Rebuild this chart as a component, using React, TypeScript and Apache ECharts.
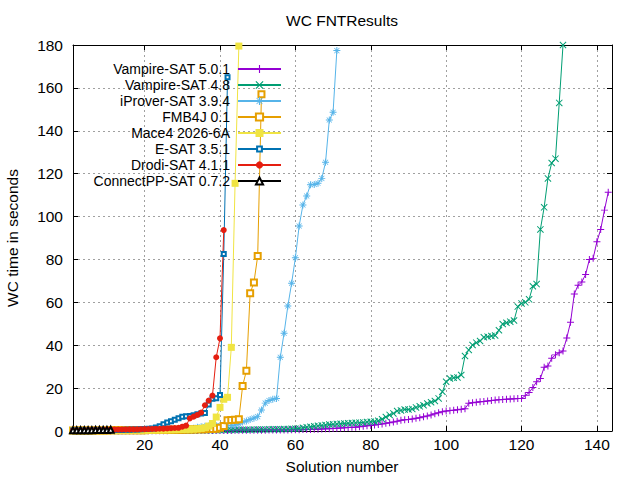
import { useEffect, useRef } from "react";
import * as echarts from "echarts";

// sorted WC times (s) per solver, index = solution number
const vampire501 = [
  0.05, 0.05, 0.06, 0.06, 0.07, 0.07, 0.08, 0.08, 0.09, 0.09,
  0.1, 0.1, 0.11, 0.11, 0.12, 0.12, 0.13, 0.13, 0.14, 0.14,
  0.15, 0.15, 0.16, 0.16, 0.17, 0.17, 0.18, 0.18, 0.19, 0.2,
  0.2, 0.21, 0.21, 0.22, 0.22, 0.23, 0.24, 0.24, 0.25, 0.26,
  0.27, 0.28, 0.29, 0.3, 0.31, 0.32, 0.33, 0.34, 0.35, 0.37,
  0.38, 0.4, 0.42, 0.44, 0.46, 0.48, 0.5, 0.52, 0.55, 0.58,
  0.6, 0.65, 0.7, 0.75, 0.8, 0.85, 0.9, 1.0, 1.1, 1.2,
  1.3, 1.4, 1.5, 1.6, 1.7, 1.8, 2.0, 2.2, 2.4, 2.6,
  2.8, 3.0, 3.3, 3.6, 3.9, 4.2, 4.6, 5.0, 5.2, 5.4,
  5.6, 5.9, 6.2, 6.6, 7.0, 7.5, 8.0, 8.5, 9.0, 9.3,
  9.5, 9.7, 9.9, 10.1, 10.4, 12.9, 13.2, 13.4, 13.6, 13.8,
  14.0, 14.2, 14.4, 14.6, 14.7, 14.8, 14.9, 15.0, 15.1, 15.2,
  16.5, 17.9, 20.3, 23.0, 24.5, 29.7, 30.3, 33.9, 35.5, 36.5,
  37.3, 43.4, 50.7, 63.9, 68.0, 69.5, 73.0, 80.0, 80.5, 88.3,
  94.0, 103.0, 111.3,
];
const vampire48 = [
  0.05, 0.05, 0.06, 0.06, 0.07, 0.07, 0.08, 0.08, 0.09, 0.09,
  0.1, 0.1, 0.11, 0.11, 0.12, 0.12, 0.13, 0.14, 0.15, 0.16,
  0.17, 0.18, 0.19, 0.2, 0.21, 0.22, 0.23, 0.24, 0.25, 0.26,
  0.27, 0.28, 0.29, 0.3, 0.32, 0.34, 0.36, 0.38, 0.4, 0.42,
  0.44, 0.46, 0.48, 0.5, 0.53, 0.56, 0.59, 0.62, 0.65, 0.68,
  0.71, 0.74, 0.77, 0.8, 0.83, 0.86, 0.9, 0.95, 1.0, 1.1,
  1.2, 1.5, 1.8, 2.0, 2.2, 2.4, 2.6, 2.8, 3.0, 3.1,
  3.3, 3.4, 3.5, 3.6, 3.7, 3.8, 3.9, 4.0, 4.2, 4.3,
  4.4, 4.8, 5.5, 6.5, 7.5, 8.2, 9.3, 9.6, 10.0, 10.0,
  10.3, 11.0, 11.5, 12.0, 12.8, 13.4, 14.0, 15.2, 18.3, 23.0,
  24.5, 24.8, 25.0, 26.1, 35.0, 37.8, 40.1, 41.2, 42.0, 43.7,
  44.0, 44.3, 44.5, 47.0, 49.9, 50.5, 51.0, 51.5, 58.0, 59.5,
  60.0, 61.4, 67.5, 68.5, 94.0, 104.3, 117.8, 125.0, 127.0, 153.0,
  180.0,
];
const iprover = [
  0.05, 0.06, 0.07, 0.08, 0.09, 0.1, 0.11, 0.12, 0.13, 0.14,
  0.15, 0.16, 0.17, 0.18, 0.19, 0.2, 0.21, 0.22, 0.23, 0.24,
  0.25, 0.27, 0.29, 0.31, 0.33, 0.35, 0.38, 0.41, 0.45, 0.5,
  0.6, 0.9, 1.3, 1.7, 2.0, 2.2, 2.3, 2.4, 2.4, 2.5,
  2.5, 2.6, 2.6, 2.8, 3.3, 4.2, 4.7, 5.4, 6.0, 6.7,
  9.8, 13.0, 14.2, 14.8, 15.2, 34.4, 45.6, 58.3, 68.9, 80.8,
  95.6, 105.4, 109.6, 114.8, 115.0, 115.5, 117.8, 125.3, 145.0, 148.6,
  177.4,
];
const fmb4j = [
  0.2, 0.2, 0.22, 0.22, 0.24, 0.24, 0.26, 0.26, 0.28, 0.28,
  0.3, 0.3, 0.32, 0.32, 0.34, 0.34, 0.36, 0.36, 0.38, 0.4,
  0.42, 0.44, 0.46, 0.48, 0.5, 0.52, 0.55, 0.58, 0.6, 0.63,
  0.66, 0.7, 0.74, 0.78, 0.82, 0.86, 0.9, 0.95, 1.0, 1.5,
  2.3, 5.0, 5.1, 5.3, 5.5, 21.0, 28.1, 64.2, 69.3, 81.6,
  157.0,
];
const mace4 = [
  0.1, 0.1, 0.12, 0.12, 0.14, 0.14, 0.16, 0.16, 0.18, 0.18,
  0.2, 0.2, 0.22, 0.24, 0.26, 0.28, 0.3, 0.32, 0.34, 0.36,
  0.38, 0.4, 0.43, 0.46, 0.5, 0.54, 0.58, 0.62, 0.66, 0.7,
  0.75, 0.8, 0.9, 1.0, 1.2, 1.5, 2.3, 3.5, 6.5, 11.0,
  14.8, 15.7, 39.0, 115.5, 179.5,
];
const esat = [
  0.2, 0.22, 0.24, 0.26, 0.28, 0.3, 0.32, 0.34, 0.36, 0.38,
  0.4, 0.43, 0.46, 0.5, 0.55, 0.6, 0.65, 0.7, 0.8, 0.9,
  1.0, 1.2, 1.6, 2.2, 3.2, 4.0, 4.6, 5.2, 5.9, 6.6,
  6.9, 7.0, 7.3, 7.8, 8.2, 8.4, 12.4, 15.0, 15.3, 16.8,
  82.5, 165.0,
];
const drodi = [
  0.3, 0.32, 0.34, 0.36, 0.38, 0.4, 0.42, 0.45, 0.5, 0.6,
  0.62, 0.65, 0.68, 0.7, 0.72, 0.75, 0.78, 0.8, 0.83, 0.86,
  0.9, 0.95, 1.0, 1.05, 1.1, 1.2, 1.3, 1.4, 1.5, 2.0,
  2.5, 5.9, 6.7, 7.5, 8.6, 12.0, 14.2, 16.5, 34.4, 43.2,
  93.7,
];
const connectpp = [0.3, 0.3, 0.35, 0.35, 0.4, 0.4, 0.45, 0.45, 0.5, 0.5, 0.55];

const xTicks = [20, 40, 60, 80, 100, 120, 140];

const PLUS = "path://M0,4.3H10V5.7H0Z M4.3,0H5.7V10H4.3Z";
const CROSS = "path://M0,1L1,0L10,9L9,10Z M9,0L10,1L1,10L0,9Z";
const STAR =
  "path://M0,4.3H10V5.7H0Z M4.3,0H5.7V10H4.3Z M1,1.7L1.7,1L9,8.3L8.3,9Z M8.3,1L9,1.7L1.7,9L1,8.3Z";

const FONT = "Liberation Sans, Arial, sans-serif";

const solvers = [
  { name: "Vampire-SAT 5.0.1", values: vampire501, color: "#9400d3", symbol: PLUS, size: 7, legendH: 10 },
  { name: "Vampire-SAT 4.8", values: vampire48, color: "#009e73", symbol: CROSS, size: 7, legendH: 10 },
  { name: "iProver-SAT 3.9.4", values: iprover, color: "#56b4e9", symbol: STAR, size: 7, legendH: 10 },
  { name: "FMB4J 0.1", values: fmb4j, color: "#e69f00", symbol: "emptyRect", size: 6, legendH: 9 },
  { name: "Mace4 2026-6A", values: mace4, color: "#f0e442", symbol: "rect", size: 7, legendH: 10 },
  { name: "E-SAT 3.5.1", values: esat, color: "#0072b2", symbol: "emptyRect", size: 4, legendH: 6 },
  { name: "Drodi-SAT 4.1.1", values: drodi, color: "#e51e10", symbol: "circle", size: 6, legendH: 9 },
  { name: "ConnectPP-SAT 0.7.2", values: connectpp, color: "#000000", symbol: "emptyTriangle", size: 6, legendH: 9 },
];

const App = () => {
  const chartRef = useRef<HTMLDivElement | null>(null);

  useEffect(() => {
    if (!chartRef.current) return;
    const chart = echarts.init(chartRef.current, null, { renderer: "svg" });

    const gridLine = { show: true, lineStyle: { color: "#a0a0a0", type: [2, 3], width: 1 } };
    const axisLine = { onZero: false, lineStyle: { color: "#000", width: 1 } };
    const tick = { inside: true, length: 5, lineStyle: { color: "#000" } };
    const label = { fontSize: 15.5, fontFamily: FONT, color: "#000" };

    const option = {
      animation: false,
      backgroundColor: "#fff",
      grid: { left: 73, right: 28, top: 45, bottom: 49 },
      xAxis: [
        {
          type: "value",
          min: 1,
          max: 144,
          axisLine,
          axisTick: { ...tick, customValues: xTicks },
          axisLabel: { ...label, margin: 5, customValues: xTicks },
          splitLine: gridLine,
        },
        {
          type: "value",
          position: "top",
          min: 1,
          max: 144,
          axisLine,
          axisTick: { ...tick, customValues: xTicks },
          axisLabel: { show: false, customValues: xTicks },
          splitLine: { show: false },
        },
      ],
      yAxis: [
        {
          type: "value",
          min: 0,
          max: 180,
          interval: 20,
          axisLine: { ...axisLine, show: true },
          axisTick: { ...tick, show: true },
          axisLabel: { ...label, margin: 10 },
          splitLine: gridLine,
        },
        {
          type: "value",
          position: "right",
          min: 0,
          max: 180,
          interval: 20,
          axisLine: { ...axisLine, show: true },
          axisTick: { ...tick, show: true },
          axisLabel: { show: false },
          splitLine: { show: false },
        },
      ],
      // gnuplot-style key: one legend per row, text right-aligned before the sample
      legend: solvers.map((s, i) => ({
        data: [s.name],
        right: 358,
        top: 69 + i * 16 - 8,
        orient: "horizontal",
        align: "right",
        itemWidth: 43,
        itemHeight: s.legendH,
        padding: 0,
        selectedMode: false,
        textStyle: {
          fontSize: 14,
          fontFamily: FONT,
          color: "#000",
          lineHeight: 16,
          padding: [0, 3, 0, 0],
        },
      })),
      graphic: [
        {
          type: "text",
          x: 342,
          y: 20,
          style: { text: "WC FNTResults", fontSize: 15.5, fontFamily: FONT, fill: "#000", align: "center", verticalAlign: "middle" },
        },
        {
          type: "text",
          x: 342,
          y: 466,
          style: { text: "Solution number", fontSize: 15.5, fontFamily: FONT, fill: "#000", align: "center", verticalAlign: "middle" },
        },
        {
          type: "text",
          x: 12,
          y: 238,
          rotation: Math.PI / 2,
          style: { text: "WC time in seconds", fontSize: 15.5, fontFamily: FONT, fill: "#000", align: "center", verticalAlign: "middle" },
        },
      ],
      series: solvers.map((s) => ({
        name: s.name,
        type: "line",
        data: s.values.map((v, i) => [i + 1, v]),
        symbol: s.symbol,
        symbolSize: s.size,
        showSymbol: true,
        showAllSymbol: true,
        silent: true,
        clip: true,
        lineStyle: { width: 1, color: s.color },
        itemStyle: { color: s.color, borderWidth: 1 },
        emphasis: { disabled: true },
      })),
    };

    chart.setOption(option);
    return () => {
      chart.dispose();
    };
  }, []);

  return (
    <div
      ref={chartRef}
      style={{ position: "absolute", left: 0, top: 0, width: 640, height: 480 }}
    />
  );
};

export default App;
